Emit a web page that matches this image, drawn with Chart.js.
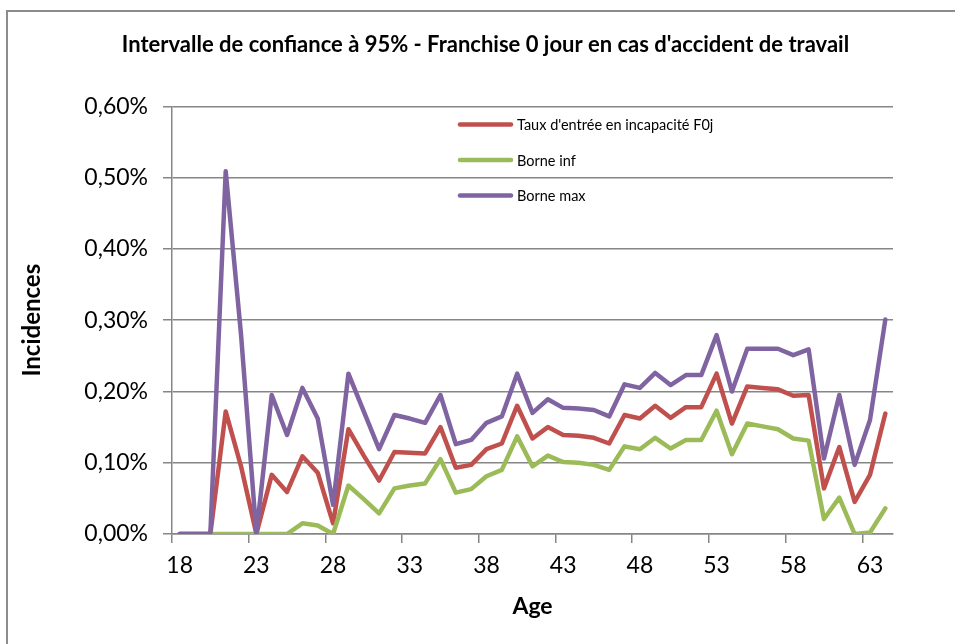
<!DOCTYPE html>
<html>
<head>
<meta charset="utf-8">
<script src="https://cdn.jsdelivr.net/npm/chart.js@4.4.1/dist/chart.umd.min.js"></script>
<style>
  html, body { margin: 0; padding: 0; background: #fff; }
  #wrap { width: 955px; height: 644px; }
</style>
</head>
<body>
<div id="wrap"><canvas id="incidenceChart" width="955" height="644"></canvas></div>
<script>
// Incidence data (in %), ages 18 to 64
const ages = [18, 19, 20, 21, 22, 23, 24, 25, 26, 27, 28, 29, 30, 31, 32, 33,
    34, 35, 36, 37, 38, 39, 40, 41, 42, 43, 44, 45, 46, 47, 48, 49,
    50, 51, 52, 53, 54, 55, 56, 57, 58, 59, 60, 61, 62, 63, 64];

const tauxEntree = [0, 0, 0, 0.172, 0.095, 0, 0.083, 0.059, 0.109, 0.086, 0.015, 0.147, 0.110, 0.075, 0.115, 0.114,
    0.113, 0.150, 0.093, 0.097, 0.119, 0.127, 0.180, 0.134, 0.150, 0.139, 0.138, 0.135, 0.127, 0.167, 0.162, 0.180,
    0.163, 0.178, 0.178, 0.225, 0.155, 0.207, 0.205, 0.203, 0.194, 0.195, 0.064, 0.122, 0.045, 0.083, 0.169];

const borneInf = [0, 0, 0, 0, 0, 0, 0, 0, 0.015, 0.012, 0, 0.068, 0.049, 0.029, 0.064, 0.068,
    0.071, 0.105, 0.058, 0.063, 0.081, 0.090, 0.137, 0.095, 0.110, 0.101, 0.100, 0.097, 0.090, 0.123, 0.119, 0.135,
    0.120, 0.132, 0.132, 0.173, 0.112, 0.155, 0.151, 0.147, 0.134, 0.131, 0.021, 0.051, 0, 0.002, 0.036];

const borneMax = [0, 0, 0, 0.509, 0.280, 0, 0.195, 0.139, 0.205, 0.162, 0.041, 0.225, 0.172, 0.119, 0.167, 0.162,
    0.156, 0.195, 0.126, 0.132, 0.156, 0.165, 0.225, 0.170, 0.189, 0.177, 0.176, 0.174, 0.165, 0.210, 0.205, 0.226,
    0.209, 0.223, 0.223, 0.279, 0.200, 0.260, 0.260, 0.260, 0.251, 0.259, 0.106, 0.195, 0.097, 0.160, 0.301];

const yTicks = [0, 0.1, 0.2, 0.3, 0.4, 0.5, 0.6];

const FONT = 'Lato, "Open Sans", sans-serif';
const GRID = '#868686';

// Frame round the chart (top and left edges only, like the source)
const framePlugin = {
    id: 'frame',
    beforeDraw(chart) {
        const ctx = chart.ctx;
        ctx.save();
        ctx.fillStyle = '#fff';
        ctx.fillRect(0, 0, chart.width, chart.height);
        ctx.strokeStyle = '#8c8c8c';
        ctx.lineWidth = 2;
        ctx.beginPath();
        ctx.moveTo(7, chart.height);
        ctx.lineTo(7, 11);
        ctx.lineTo(chart.width, 11);
        ctx.stroke();
        ctx.restore();
    }
};

// Legend drawn inside the plot area
const insideLegend = {
    id: 'insideLegend',
    afterDatasetsDraw(chart) {
        const { ctx, chartArea } = chart;
        const x0 = chartArea.left + 288;
        const y0 = chartArea.top + 18;
        ctx.save();
        ctx.font = '14.5px ' + FONT;
        ctx.textBaseline = 'middle';
        ctx.lineCap = 'round';
        chart.data.datasets.forEach((ds, i) => {
            const y = y0 + i * 35.5;
            ctx.strokeStyle = ds.borderColor;
            ctx.lineWidth = 4.5;
            ctx.beginPath();
            ctx.moveTo(x0, y);
            ctx.lineTo(x0 + 51, y);
            ctx.stroke();
            ctx.fillStyle = '#000';
            ctx.fillText(ds.label, x0 + 57, y + 1);
        });
        ctx.restore();
    }
};

function lineSet(label, data, color, order) {
    return {
        label: label,
        data: data,
        borderColor: color,
        backgroundColor: color,
        borderWidth: 4.5,
        borderJoinStyle: 'round',
        borderCapStyle: 'round',
        pointRadius: 0,
        tension: 0,
        order: order
    };
}

const ctx = document.getElementById('incidenceChart');
const incidenceChart = new Chart(ctx, {
    type: 'line',
    data: {
        labels: ages,
        datasets: [
            lineSet("Taux d'entrée en incapacité F0j", tauxEntree, '#C0504D', 2),
            lineSet('Borne inf', borneInf, '#9BBB59', 1),
            lineSet('Borne max', borneMax, '#8064A2', 0)
        ]
    },
    options: {
        responsive: false,
        devicePixelRatio: 1,
        animation: false,
        layout: { padding: { left: 16, right: 0, top: 0, bottom: 0 } },
        plugins: {
            legend: { display: false },
            tooltip: { enabled: false },
            title: {
                display: true,
                text: "Intervalle de confiance à 95% - Franchise 0 jour en cas d'accident de travail",
                color: '#000',
                font: { family: FONT, size: 22, weight: 'bold' },
                padding: { top: 32, bottom: 48 }
            }
        },
        scales: {
            x: {
                offset: true,
                grid: {
                    offset: true,
                    drawOnChartArea: false,
                    tickLength: 9,
                    lineWidth: 1.5,
                    color: c => (c.index !== undefined && c.index % 5 === 0) ? GRID : 'rgba(0,0,0,0)'
                },
                border: { color: GRID, width: 1.5 },
                ticks: {
                    autoSkip: false,
                    maxRotation: 0,
                    padding: 9,
                    color: '#000',
                    font: { family: FONT, size: 23 },
                    callback: function (v, i) { return i % 5 === 0 ? this.getLabelForValue(v) : ''; }
                },
                title: {
                    display: true,
                    text: 'Age',
                    color: '#000',
                    font: { family: FONT, size: 23, weight: 'bold' },
                    padding: { top: 0, bottom: 24 }
                },
                afterFit: s => { s.height = 110; }
            },
            y: {
                min: yTicks[0],
                max: yTicks[yTicks.length - 1],
                afterBuildTicks: s => { s.ticks = yTicks.map(v => ({ value: v })); },
                grid: { color: GRID, lineWidth: 1.5, tickLength: 9 },
                border: { color: GRID, width: 1.5 },
                ticks: {
                    padding: 15,
                    color: '#000',
                    font: { family: FONT, size: 23 },
                    callback: v => v.toFixed(2).replace('.', ',') + '%'
                },
                title: {
                    display: true,
                    text: 'Incidences',
                    color: '#000',
                    font: { family: FONT, size: 24, weight: 'bold' },
                    padding: { top: 2, bottom: 0 }
                },
                afterFit: s => { s.width = 156; }
            },
            // empty right-hand axis, only keeps the plot's right margin
            yRight: {
                type: 'linear',
                position: 'right',
                grid: { display: false },
                border: { display: false },
                ticks: { display: false },
                afterFit: s => { s.width = 62; }
            }
        }
    },
    plugins: [framePlugin, insideLegend]
});
</script>
</body>
</html>
